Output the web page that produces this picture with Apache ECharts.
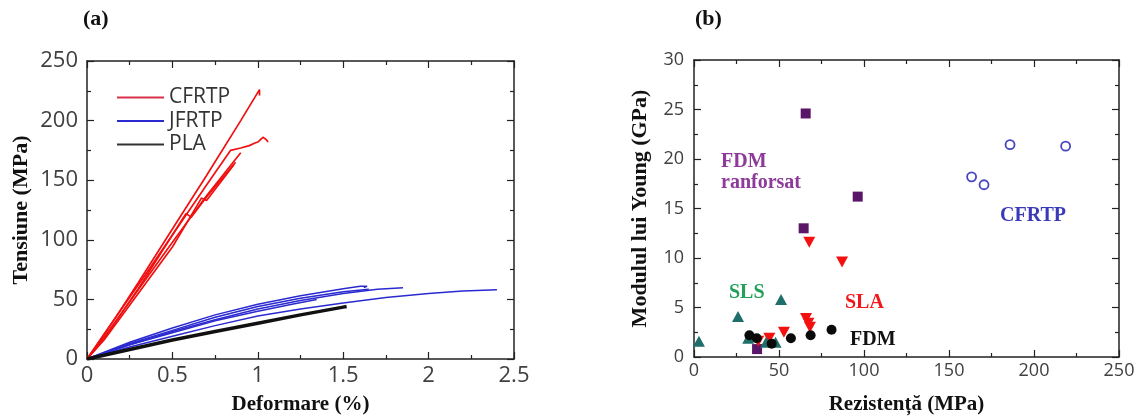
<!DOCTYPE html>
<html>
<head>
<meta charset="utf-8">
<script src="https://cdn.jsdelivr.net/npm/echarts@6/dist/echarts.min.js"></script>
<style>
html,body{margin:0;padding:0;background:#fff;}
#chart{width:1140px;height:420px;}
</style>
</head>
<body>
<div id="chart"></div>
<script>
// ---------- Panel (a): stress-strain curves [strain %, stress MPa] ----------
const cfrtpA = [[0,0],[0.1,20],[0.3,64],[0.5,109],[0.7,154],[0.9,200],[1.01,226],[1.01,221]];
const cfrtpB = [[0,0],[0.1,21],[0.3,62],[0.5,104],[0.7,146],[0.84,175],[0.9,177],[0.95,179],[0.98,181],[1.0,182],[1.03,186],[1.05,184],[1.06,182]];
const cfrtpC = [[0,0],[0.1,18],[0.3,58],[0.5,98],[0.7,137],[0.9,173]];
const cfrtpD = [[0,0],[0.1,17],[0.3,59],[0.58,122],[0.61,119],[0.7,136],[0.87,165]];
const cfrtpE = [[0,0],[0.1,16],[0.3,55],[0.5,94],[0.67,135],[0.7,133],[0.86,163]];
const jfrtpA = [[0,0],[0.25,14],[0.5,26],[0.75,37],[1.0,46],[1.25,53],[1.5,59],[1.6,61],[1.64,61],[1.62,60]];
const jfrtpB = [[0,0],[0.25,12],[0.5,23],[0.75,33],[1.0,42],[1.25,49],[1.5,55],[1.7,58.5],[1.85,59.8]];
const jfrtpC = [[0,0],[0.25,10],[0.5,19],[0.75,28],[1.0,36],[1.25,42],[1.5,47],[1.75,51.5],[2.0,55],[2.2,57],[2.4,58]];
const jfrtpD = [[0,0],[0.25,12],[0.5,22],[0.75,32],[1.0,40],[1.2,46],[1.345,50]];
const jfrtpE = [[0,0],[0.25,13],[0.5,24],[0.75,35],[1.0,44],[1.25,51],[1.5,56.5],[1.65,58.5]];
const plaA = [[0,0],[0.25,8],[0.5,16],[0.75,23],[1.0,30],[1.25,37],[1.5,43.5],[1.52,44]];

// ---------- Panel (b): Young's modulus vs strength [MPa, GPa] ----------
const fdmReinforced = [[65.7,24.6],[96.3,16.2],[64.5,13.0],[37.1,0.8]];
const slaPts = [[67.8,11.6],[87.1,9.6],[65.9,3.9],[67.3,3.4],[68.2,3.0],[52.9,2.5],[44.3,1.9],[37.8,1.6]];
const slsPts = [[2.9,1.6],[25.9,4.1],[51.2,5.8],[31.9,1.9],[42.4,1.5],[48.0,1.5]];
const fdmPts = [[32.6,2.2],[36.9,1.9],[45.7,1.35],[57.0,1.9],[68.6,2.2],[80.9,2.75]];
const cfrtpPts = [[185.9,21.45],[218.6,21.3],[163.3,18.2],[170.6,17.4]];

const legendNames = ['CFRTP','JFRTP','PLA'];

const chart = echarts.init(document.getElementById('chart'));
const tickFont = 'Open Sans';
const serif = 'Liberation Serif';
const lineIcon = 'path://M0,0L47,0L47,2L0,2Z';

function lineSeries(name, data, color, width){
  return {type:'line', name:name, data:data, xAxisIndex:0, yAxisIndex:0,
    symbol:'none', smooth:false, lineStyle:{color:color, width:width}, itemStyle:{color:color},
    animation:false, z:3};
}

function mainAxis(cfg){
  return Object.assign({
    type:'value',
    axisLine:{show:true, onZero:false, lineStyle:{color:'#222', width:1.5}},
    axisTick:{show:true, inside:true, length:7, lineStyle:{color:'#222', width:1.2}},
    minorTick:{show:true, splitNumber:2, length:4, lineStyle:{color:'#222', width:1.2}},
    splitLine:{show:false},
    axisLabel:{color:'#404040', fontFamily:tickFont}
  }, cfg);
}
function mirrorAxis(cfg){
  return mainAxis(Object.assign({axisLabel:{show:false}}, cfg));
}
const titleStyle = {fontFamily:serif, fontWeight:'bold', fontSize:21, color:'#111'};

const option = {
  backgroundColor:'#fff',
  animation:false,
  grid:[
    {left:87, top:61, width:427, height:301},
    {left:694, top:60, width:425, height:302}
  ],
  xAxis:[
    mainAxis({gridIndex:0, position:'bottom', min:0, max:2.5, interval:0.5,
      axisLabel:{color:'#404040', fontFamily:tickFont, fontSize:22, margin:6},
      name:'Deformare (%)', nameLocation:'middle', nameGap:35, nameTextStyle:titleStyle}),
    mirrorAxis({gridIndex:0, position:'top', min:0, max:2.5, interval:0.5}),
    mainAxis({gridIndex:1, position:'bottom', min:0, max:250, interval:50,
      axisLabel:{color:'#404040', fontFamily:tickFont, fontSize:18, margin:5},
      name:'Rezistență (MPa)', nameLocation:'middle', nameGap:37, nameTextStyle:titleStyle}),
    mirrorAxis({gridIndex:1, position:'top', min:0, max:250, interval:50})
  ],
  yAxis:[
    mainAxis({gridIndex:0, position:'left', min:0, max:250, interval:50,
      axisLabel:{color:'#404040', fontFamily:tickFont, fontSize:22, margin:9},
      name:'Tensiune (MPa)', nameLocation:'middle', nameGap:55,
      nameTextStyle:Object.assign({}, titleStyle, {fontSize:22})}),
    mirrorAxis({gridIndex:0, position:'right', min:0, max:250, interval:50}),
    mainAxis({gridIndex:1, position:'left', min:0, max:30, interval:5,
      axisLabel:{color:'#404040', fontFamily:tickFont, fontSize:18, margin:10},
      name:'Modulul lui Young (GPa)', nameLocation:'middle', nameGap:43,
      nameTextStyle:Object.assign({}, titleStyle, {fontSize:22})}),
    mirrorAxis({gridIndex:1, position:'right', min:0, max:30, interval:5})
  ],
  legend:{
    orient:'vertical', left:112, top:82, itemWidth:47, itemHeight:2, itemGap:2.5,
    textStyle:{fontFamily:tickFont, fontSize:21, color:'#333'},
    data:[
      {name:legendNames[0], icon:lineIcon, itemStyle:{color:'#d8324a'}},
      {name:legendNames[1], icon:lineIcon, itemStyle:{color:'#2a2ad0'}},
      {name:legendNames[2], icon:lineIcon, itemStyle:{color:'#333'}}
    ]
  },
  graphic:[
    {type:'text', left:83, top:8, style:{text:'(a)', font:'bold 22px "Liberation Serif"', fill:'#111'}},
    {type:'text', left:695, top:8, style:{text:'(b)', font:'bold 22px "Liberation Serif"', fill:'#111'}},
    {type:'text', left:721, top:151, style:{text:'FDM\nranforsat', font:'bold 20px "Liberation Serif"', fill:'#8e3a9a', lineHeight:21}},
    {type:'text', left:729, top:283, style:{text:'SLS', font:'bold 20px "Liberation Serif"', fill:'#23a05a'}},
    {type:'text', left:845, top:293, style:{text:'SLA', font:'bold 20px "Liberation Serif"', fill:'#f01818'}},
    {type:'text', left:850, top:330, style:{text:'FDM', font:'bold 20px "Liberation Serif"', fill:'#111'}},
    {type:'text', left:1000, top:206, style:{text:'CFRTP', font:'bold 20px "Liberation Serif"', fill:'#3a3ab8'}}
  ],
  series:[
    lineSeries('CFRTP', cfrtpA, '#f01010', 1.7),
    lineSeries('CFRTP', cfrtpB, '#f01010', 1.7),
    lineSeries('CFRTP', cfrtpC, '#f01010', 1.7),
    lineSeries('CFRTP', cfrtpD, '#f01010', 1.7),
    lineSeries('CFRTP', cfrtpE, '#f01010', 1.7),
    lineSeries('JFRTP', jfrtpA, '#2a2ad0', 1.5),
    lineSeries('JFRTP', jfrtpB, '#2a2ad0', 1.5),
    lineSeries('JFRTP', jfrtpC, '#2a2ad0', 1.5),
    lineSeries('JFRTP', jfrtpD, '#2a2ad0', 1.5),
    lineSeries('JFRTP', jfrtpE, '#2a2ad0', 1.5),
    lineSeries('PLA', plaA, '#111', 3.5),
    {type:'scatter', name:'FDM ranforsat', xAxisIndex:2, yAxisIndex:2, data:fdmReinforced,
      symbol:'rect', symbolSize:10, itemStyle:{color:'#5a1668', opacity:1}},
    {type:'scatter', name:'SLA', xAxisIndex:2, yAxisIndex:2, data:slaPts,
      symbol:'triangle', symbolRotate:180, symbolSize:[12,11], itemStyle:{color:'#f51010', opacity:1}},
    {type:'scatter', name:'SLS', xAxisIndex:2, yAxisIndex:2, data:slsPts,
      symbol:'triangle', symbolSize:[12,11], itemStyle:{color:'#1f6e6a', opacity:1}},
    {type:'scatter', name:'FDM', xAxisIndex:2, yAxisIndex:2, data:fdmPts,
      symbol:'circle', symbolSize:10, itemStyle:{color:'#0a0a0a', opacity:1}},
    {type:'scatter', name:'CFRTP b', xAxisIndex:2, yAxisIndex:2, data:cfrtpPts,
      symbol:'circle', symbolSize:9, itemStyle:{color:'#fff', borderColor:'#4646c0', borderWidth:1.8, opacity:1}}
  ]
};
chart.setOption(option);
</script>
</body>
</html>
